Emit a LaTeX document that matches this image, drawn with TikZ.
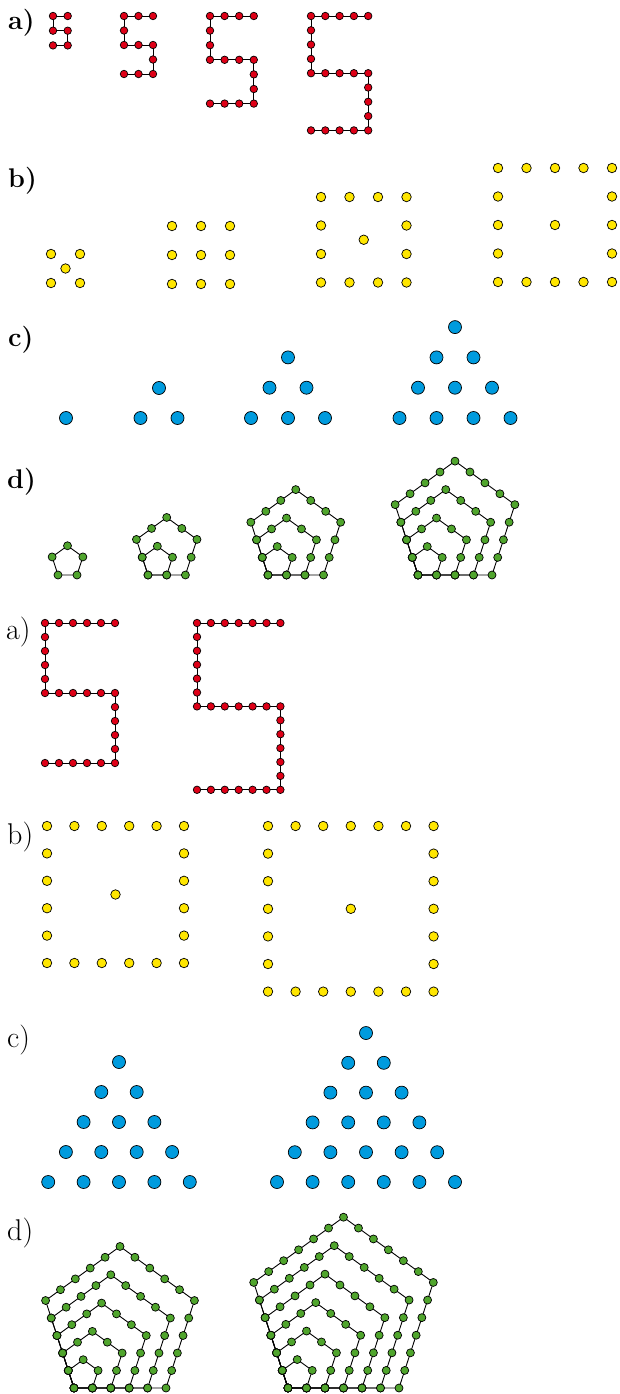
\documentclass[tikz,border=0pt]{standalone}
\usetikzlibrary{backgrounds}
\definecolor{dotred}{RGB}{222,0,23}
\definecolor{dotyellow}{RGB}{255,230,0}
\definecolor{dotblue}{RGB}{0,155,222}
\definecolor{dotgreen}{RGB}{80,165,45}

\begin{document}
\begin{tikzpicture}[x=1pt,y=-1pt,dot/.style={circle,draw=black,line width=0.7pt,inner sep=0pt},reddot/.style={dot,fill=dotred,minimum size=7.5pt},yellowdot/.style={dot,fill=dotyellow,minimum size=9.5pt},bluedot/.style={dot,fill=dotblue,minimum size=13pt},greendot/.style={dot,fill=dotgreen,minimum size=8pt},link/.style={draw=black,line width=0.9pt,line join=round},boldlabel/.style={anchor=base west,inner sep=0pt,font=\fontsize{27}{30}\selectfont\bfseries},plainlabel/.style={anchor=base west,inner sep=0pt,font=\fontsize{30}{33}\selectfont}]
\useasboundingbox (0,0) rectangle (619,1394);

% labels
\node[boldlabel] (la1) at (8,30) {a)};
\node[boldlabel] (lb1) at (8,187) {b)};
\node[boldlabel] (lc1) at (8,346) {c)};
\node[boldlabel] (ld1) at (7,488) {d)};
\node[plainlabel] (la2) at (6,639) {a)};
\node[plainlabel] (lb2) at (7,844) {b)};
\node[plainlabel] (lc2) at (7,1047) {c)};
\node[plainlabel] (ld2) at (7,1240) {d)};

% a) the fives
\foreach \st/\px/\py/\n/\sp in {1/53/16/1/14.7, 2/124/16/2/14.5, 3/210/16/3/14.6, 4/311/16/4/14.3, 5/45/623/5/14, 6/197/623/6/13.9} {
  \foreach \j/\cx/\cy/\dx/\dy in {1/1/0/-1/0, 2/0/0/0/1, 3/0/1/1/0, 4/1/1/0/1, 5/1/2/-1/0}
    \foreach \t in {1,...,\n}
      \node[reddot] (a\st-\j-\t) at ({\px+(\cx*\n+\dx*(\t-1))*\sp},{\py+(\cy*\n+\dy*(\t-1))*\sp}) {};
  \node[reddot] (a\st-end) at (\px,{\py+2*\n*\sp}) {};
  \begin{scope}[on background layer]
    \draw[link] (a\st-1-1.center) -- (a\st-2-1.center) -- (a\st-3-1.center) -- (a\st-4-1.center) -- (a\st-5-1.center) -- (a\st-end.center);
  \end{scope}
}

% b) squares with a centre dot
\foreach \st/\px/\py/\n/\sp in {1/51/254/1/29, 2/172/226/2/29, 3/321/197/3/28.5, 4/498/168/4/28.5, 5/47/826/5/27.4, 6/268/826/6/27.6} {
  \foreach \j/\cx/\cy/\dx/\dy in {1/0/0/1/0, 2/1/0/0/1, 3/1/1/-1/0, 4/0/1/0/-1}
    \foreach \t in {1,...,\n}
      \node[yellowdot] (b\st-\j-\t) at ({\px+(\cx*\n+\dx*(\t-1))*\sp},{\py+(\cy*\n+\dy*(\t-1))*\sp}) {};
  \node[yellowdot] (b\st-mid) at ({\px+\n*\sp/2},{\py+\n*\sp/2}) {};
}

% c) triangles
\foreach \st/\cx/\by/\n/\hs/\vs in {1/66/418/1/37/30, 2/159/418/2/37/30, 3/288/418/3/37/30.3, 4/455/418/4/37/30.3, 5/119/1182/5/35.4/30, 6/366/1182/6/35.6/29.8} {
  \foreach \r in {1,...,\n}
    \foreach \i in {1,...,\r}
      \node[bluedot] (c\st-\r-\i) at ({\cx+(\i-(\r+1)/2)*\hs},{\by-(\n-\r)*\vs}) {};
}

% d) nested pentagons
\foreach \st/\px/\py/\n/\sp in {1/58/575/1/19, 2/148/575/2/18.7, 3/268/575/3/18.5, 4/418/575/4/18.5, 5/74/1388/5/18.4, 6/288/1388/6/18.5} {
  \foreach \k in {1,...,\n} {
    \path (\px,\py) coordinate (p\st-\k-0) ++(0:\k*\sp) coordinate (p\st-\k-1) ++(-72:\k*\sp) coordinate (p\st-\k-2) ++(-144:\k*\sp) coordinate (p\st-\k-3) ++(-216:\k*\sp) coordinate (p\st-\k-4);
    \foreach \j in {0,...,4}
      \foreach \t in {1,...,\k}
        \path (p\st-\k-\j) ++({-72*\j}:{(\t-1)*\sp}) node[greendot] (d\st-\k-\j-\t) {};
    \begin{scope}[on background layer]
      \draw[link] (d\st-\k-0-1.center) -- (d\st-\k-1-1.center) -- (d\st-\k-2-1.center) -- (d\st-\k-3-1.center) -- (d\st-\k-4-1.center) -- cycle;
    \end{scope}
  }
}
\end{tikzpicture}
\end{document}
